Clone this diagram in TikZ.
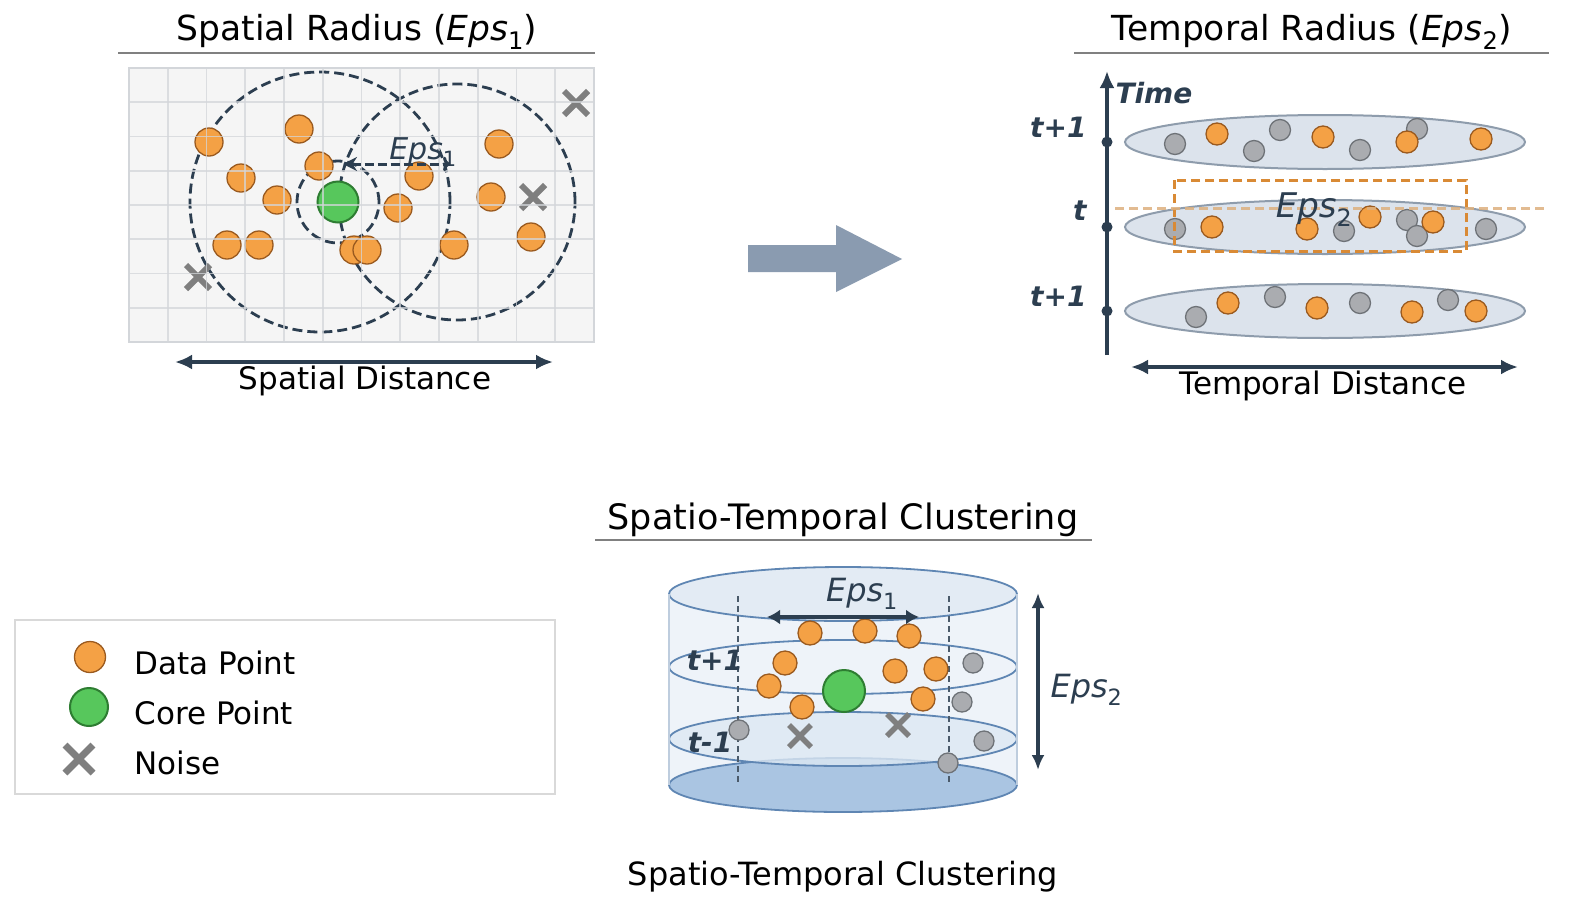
\documentclass[tikz,border=0pt]{standalone}
\usepackage{fontspec}
\setmainfont{DejaVu Sans}
\usetikzlibrary{arrows.meta}
\definecolor{navy}{HTML}{2C3E50}
\definecolor{ptorange}{HTML}{F4A145}
\definecolor{orangeedge}{HTML}{9A5A1F}
\definecolor{ptgreen}{HTML}{57C75C}
\definecolor{greenedge}{HTML}{2E7D32}
\definecolor{ptgray}{HTML}{AAACB0}
\definecolor{grayedge}{HTML}{6E7277}
\definecolor{noisegray}{HTML}{7F7F7F}
\definecolor{gridline}{HTML}{D3D6DA}
\definecolor{slicefill}{HTML}{DCE3EC}
\definecolor{sliceedge}{HTML}{8E9CAC}
\definecolor{boxorange}{HTML}{D98A35}
\definecolor{tanline}{HTML}{DDB07E}
\definecolor{blockarrow}{HTML}{8A9BB0}
\definecolor{cylline}{HTML}{5F86B3}
\definecolor{cylbody}{HTML}{EEF3F9}
\definecolor{cylbase}{HTML}{AAC5E2}
\definecolor{cyllow}{HTML}{DDE8F3}
\definecolor{cyltop}{HTML}{E3EBF4}
\definecolor{cylside}{HTML}{BECDDE}
\definecolor{guide}{HTML}{4A5A6A}
\newcommand{\epsn}[1]{{\itshape Eps}\textsubscript{#1}}
\begin{document}
\begin{tikzpicture}[x=1pt,y=-1pt,
  dpt/.style={fill=ptorange, draw=orangeedge, line width=1.3pt},
  gpt/.style={fill=ptgray, draw=grayedge, line width=1.3pt},
  cpt/.style={fill=ptgreen, draw=greenedge, line width=2pt},
  noise/.style={draw=noisegray, line width=6pt},
  ring/.style={draw=navy, line width=2.8pt, dash pattern=on 10pt off 5pt},
  slice/.style={fill=slicefill, draw=sliceedge, line width=2pt},
  rule/.style={draw=gray, line width=1.8pt},
  arr/.style={{Latex[length=17pt,width=15pt]}-{Latex[length=17pt,width=15pt]}, draw=navy, line width=3.4pt},
  ttl/.style={font=\fontsize{34.5}{40}\selectfont},
  lbl/.style={font=\fontsize{31}{36}\selectfont},
  tlab/.style={font=\fontsize{28}{32}\selectfont\bfseries\itshape, text=navy},
  epslab/.style={font=\fontsize{32}{36}\selectfont, text=navy}
]
\useasboundingbox[fill=white] (0,0) rectangle (1590,900);

% spatial panel
\node[ttl] (sptitle) at (357,32) {Spatial Radius (\epsn{1})};
\draw[rule] (118,53) -- (595,53);
\fill[black!4] (129,68) rectangle (594,342);
\draw[ring] (320,202) circle (130pt);
\draw[ring] (457,202) circle (118pt);
\draw[ring] (338,202) circle (41pt);
\foreach \x/\y in {209/142, 299/129, 319/166, 241/178, 277/200, 227/245, 259/245,
  354/250, 367/250, 398/208, 419/176, 499/144, 491/197, 454/245, 531/237}
  \draw[dpt] (\x,\y) circle (14pt);
\draw[cpt] (338,202) circle (20.5pt);
\foreach \x/\y in {576/103, 533/197, 198/277}
  \draw[noise] (\x-12,\y-12) -- (\x+12,\y+12) (\x-12,\y+12) -- (\x+12,\y-12);
\foreach \i in {1,...,11}
  \draw[gridline, opacity=0.75, line width=1.8pt] (129+38.75*\i,68) -- (129+38.75*\i,342);
\foreach \i in {1,...,7}
  \draw[gridline, opacity=0.75, line width=1.8pt] (129,68+34.25*\i) -- (594,68+34.25*\i);
\draw[gridline, line width=2.2pt] (129,68) rectangle (594,342);
\coordinate (epsend) at (450,164);
\coordinate (epscore) at (343,164);
\draw[navy, line width=3pt, dash pattern=on 9pt off 4pt, {Stealth[length=14pt,width=14pt]}-{To[length=7pt]}] (epscore) -- (epsend);
\node[font=\fontsize{30}{34}\selectfont, text=navy] (speps) at (423,152) {\epsn{1}};
\coordinate (spl) at (175,362);
\coordinate (spr) at (553,362);
\draw[arr] (spl) -- (spr);
\node[lbl] (spdist) at (365,381) {Spatial Distance};

% block arrow
\fill[blockarrow] (748,245) -- (836,245) -- (836,225) -- (902,259) -- (836,292) -- (836,272) -- (748,272) -- cycle;

% temporal panel
\node[ttl] (tmtitle) at (1312,32) {Temporal Radius (\epsn{2})};
\draw[rule] (1074,53) -- (1549,53);
\draw[slice] (1325,142) ellipse [x radius=200pt, y radius=27pt];
\draw[slice] (1325,227) ellipse [x radius=200pt, y radius=27pt];
\draw[slice] (1325,311) ellipse [x radius=200pt, y radius=27pt];
\foreach \x/\y in {1175/144, 1254/151, 1280/130, 1360/150, 1417/129,
  1175/229, 1344/231, 1407/220, 1417/236, 1486/229,
  1196/317, 1275/297, 1360/303, 1448/300}
  \draw[gpt] (\x,\y) circle (10.5pt);
\foreach \x/\y in {1217/134, 1323/137, 1407/142, 1481/139,
  1212/227, 1307/229, 1370/217, 1433/222,
  1228/303, 1317/308, 1412/312, 1476/311}
  \draw[dpt] (\x,\y) circle (11pt);
\draw[boxorange, line width=3pt, dash pattern=on 9pt off 5pt] (1174,180) rectangle (1466,251);
\draw[tanline, opacity=0.85, line width=3pt, dash pattern=on 9pt off 5pt] (1115,208) -- (1547,208);
\node[font=\fontsize{34}{38}\selectfont, text=navy] (tmeps) at (1314,210) {\epsn{2}};
\coordinate (tbot) at (1107,355);
\coordinate (ttop) at (1107,71);
\draw[navy, line width=4pt, -{Latex[length=17pt,width=15pt]}] (tbot) -- (ttop);
\foreach \y in {142,227,311}
  \fill[navy] (1107,\y) circle (5.5pt);
\node[tlab, anchor=west] (time) at (1112,93) {Time};
\node[tlab, anchor=east] (tup) at (1090,127) {t+1};
\node[tlab, anchor=east] (tnow) at (1090,211) {t};
\node[tlab, anchor=east] (tdown) at (1090,296) {t+1};
\coordinate (tml) at (1131,367);
\coordinate (tmr) at (1518,367);
\draw[arr] (tml) -- (tmr);
\node[lbl] (tmdist) at (1323,386) {Temporal Distance};

% spatio-temporal cylinder
\node[ttl, font=\fontsize{35}{40}\selectfont] (sttitle) at (843,520) {Spatio-Temporal Clustering};
\draw[rule] (595,540) -- (1092,540);
\fill[cylbody] (669,594) rectangle (1017,785);
\draw[cylline, fill=cylbase, line width=1.8pt] (843,785) ellipse [x radius=174pt, y radius=27pt];
\draw[cylline, fill=cyllow, fill opacity=0.8, line width=1.8pt] (843,739) ellipse [x radius=174pt, y radius=27pt];
\draw[cylline, line width=1.8pt] (843,667) ellipse [x radius=174pt, y radius=27pt];
\draw[cylline, fill=cyltop, line width=1.8pt] (843,594) ellipse [x radius=174pt, y radius=27pt];
\draw[cylside, line width=1.5pt] (669,594) -- (669,785) (1017,594) -- (1017,785);
\draw[guide, line width=1.5pt, dash pattern=on 6pt off 4pt] (738,596) -- (738,785) (949,596) -- (949,785);
\foreach \x/\y in {973/663, 962/702, 739/730, 984/741, 948/763}
  \draw[gpt] (\x,\y) circle (10pt);
\foreach \x/\y in {810/633, 865/631, 909/636, 785/663, 769/686, 802/707, 895/671, 936/669, 923/699}
  \draw[dpt] (\x,\y) circle (12pt);
\draw[cpt] (844,691) circle (21pt);
\foreach \x/\y in {800/736, 898/725}
  \draw[noise, line width=5.5pt] (\x-11,\y-11) -- (\x+11,\y+11) (\x-11,\y+11) -- (\x+11,\y-11);
\coordinate (cyl) at (767,617);
\coordinate (cyr) at (919,617);
\draw[navy, line width=3.5pt, {Latex[length=13pt,width=15pt]}-{Latex[length=13pt,width=15pt]}] (cyl) -- (cyr);
\node[epslab] (cyeps1) at (862,594) {\epsn{1}};
\coordinate (cyt) at (1038,593);
\coordinate (cyb) at (1038,770);
\draw[navy, line width=3.5pt, {Latex[length=15pt,width=13pt]}-{Latex[length=15pt,width=13pt]}] (cyt) -- (cyb);
\node[epslab, anchor=west] (cyeps2) at (1047,690) {\epsn{2}};
\node[tlab] (cyup) at (715,660) {t+1};
\node[tlab] (cydown) at (710,742) {t-1};
\node[lbl, font=\fontsize{32}{36}\selectfont] (stcap) at (843,877) {Spatio-Temporal Clustering};

% legend
\draw[black!15, line width=1.5pt] (15,620) rectangle (555,794);
\draw[dpt] (90,657) circle (15.5pt);
\draw[cpt] (89,707) circle (19pt);
\draw[noise, line width=7pt] (65,745) -- (93,773) (65,773) -- (93,745);
\node[lbl, anchor=west] (legdata) at (131,663) {Data Point};
\node[lbl, anchor=west] (legcore) at (131,713) {Core Point};
\node[lbl, anchor=west] (legnoise) at (131,763) {Noise};
\end{tikzpicture}
\end{document}
